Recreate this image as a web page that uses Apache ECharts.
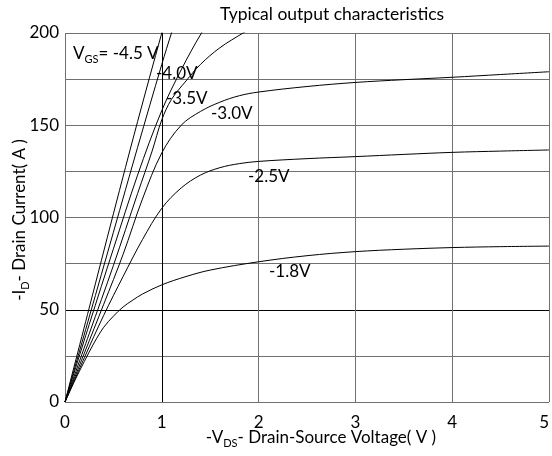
<!DOCTYPE html>
<html>
<head>
<meta charset="utf-8">
<script src="https://cdn.jsdelivr.net/npm/echarts@6/dist/echarts.min.js"></script>
<style>
  html, body { margin: 0; padding: 0; background: #fff; }
  #chart { width: 552px; height: 456px; }
</style>
</head>
<body>
<div id="chart"></div>
<script>
// Axis ranges and tick labels
const xTicks = [0, 1, 2, 3, 4, 5];
const yTicks = [0, 50, 100, 150, 200];

// Output curves: [-VDS (V), -ID (A)] for each gate drive
const curveSteep = [[0,0],[0.25,51],[0.5,102],[0.75,152],[1.0,200],[1.1,218]];
const curve45 = [[0,0],[0.25,46],[0.5,92],[0.75,138],[1.0,183],[1.1,200],[1.2,216]];
const curve40 = [[0,0],[0.25,42],[0.5,83],[0.75,123],[1.0,158],[1.2,180],[1.41,200],[1.6,215]];
const curve35 = [[0,0],[0.25,37],[0.5,74],[0.75,113],[0.9,136],[1.0,153],[1.1,164],[1.25,174],[1.4,183],[1.6,192],[1.84,200],[2.0,205]];
const curve30 = [[0,0],[0.2,26.5],[0.4,53],[0.6,80],[0.8,110],[1.0,135],[1.2,150],[1.4,157.5],[1.6,162.5],[1.8,166],[2.0,168],[2.5,171],[3.0,173.2],[3.5,174.7],[4.0,176],[4.5,177.5],[5.0,179]];
const curve25 = [[0,0],[0.2,24],[0.4,47],[0.6,68],[0.8,88],[1.0,105],[1.2,116],[1.4,123],[1.6,127],[1.8,129.2],[2.0,130.4],[2.5,131.9],[3.0,133],[3.5,134.2],[4.0,135.3],[4.5,136],[5.0,136.6]];
const curve18 = [[0,0],[0.1,11.5],[0.2,22],[0.3,32],[0.4,40.5],[0.5,46.5],[0.6,51.5],[0.7,55.2],[0.8,58.5],[1.0,63.5],[1.25,68],[1.5,71.5],[2.0,76],[2.5,79.3],[3.0,81.5],[3.5,82.8],[4.0,83.7],[4.5,84.2],[5.0,84.5]];

const curves = [curveSteep, curve45, curve40, curve35, curve30, curve25, curve18];

// Curve annotations
const curveLabels = [
  { text: '{t|V}{s|GS}{t|= -4.5 V}', x: 73, y: 54 },
  { text: '{t|-4.0V}', x: 156, y: 74 },
  { text: '{t|-3.5V}', x: 166, y: 99 },
  { text: '{t|-3.0V}', x: 211, y: 114 },
  { text: '{t|-2.5V}', x: 248, y: 177 },
  { text: '{t|-1.8V}', x: 269, y: 272 }
];

const FONT = 'Lato, "Open Sans", sans-serif';
const GRAY = '#707070';
const rich = {
  t: { fontSize: 17, fontFamily: FONT, color: '#000' },
  s: { fontSize: 11, fontFamily: FONT, color: '#000', verticalAlign: 'bottom', lineHeight: 11, padding: [0, 0, -2, 0] }
};

const chart = echarts.init(document.getElementById('chart'), null, { renderer: 'canvas' });

const yColors = [GRAY, GRAY, '#000', GRAY, GRAY, GRAY, GRAY, GRAY, GRAY];
const xColors = [GRAY, '#000', GRAY, GRAY, GRAY, GRAY];

const graphics = [
  {
    type: 'text', x: 332, y: 14,
    style: { text: 'Typical output characteristics', font: '17.5px ' + FONT, fill: '#000', textAlign: 'center', textVerticalAlign: 'middle' }
  },
  {
    type: 'text', x: 321, y: 438,
    style: { text: '{t|-V}{s|DS}{t|- Drain-Source Voltage( V )}', rich: rich, textAlign: 'center', textVerticalAlign: 'middle' }
  },
  {
    type: 'text', x: 20, y: 220, rotation: Math.PI / 2,
    style: { text: '{t|-I}{s|D}{t|- Drain Current( A )}', rich: rich, textAlign: 'center', textVerticalAlign: 'middle' }
  }
];
curveLabels.forEach(function (l) {
  graphics.push({
    type: 'text', x: l.x, y: l.y, z: 10,
    style: { text: l.text, rich: rich, textAlign: 'left', textVerticalAlign: 'middle' }
  });
});

chart.setOption({
  animation: false,
  backgroundColor: '#fff',
  grid: { left: 65, right: 0, top: 33, bottom: 54, containLabel: false },
  xAxis: {
    type: 'value', min: xTicks[0], max: xTicks[xTicks.length - 1], interval: 1,
    axisLine: { show: false },
    axisTick: { show: false },
    axisLabel: { fontSize: 17, fontFamily: FONT, color: '#000', margin: 12, alignMaxLabel: 'right' },
    splitLine: { show: true, showMinLine: true, showMaxLine: true, lineStyle: { color: xColors, width: 1 } }
  },
  yAxis: {
    type: 'value', min: yTicks[0], max: yTicks[yTicks.length - 1], interval: 25,
    axisLine: { show: false },
    axisTick: { show: false },
    axisLabel: {
      fontSize: 17, fontFamily: FONT, color: '#000', margin: 6,
      formatter: function (v) { return yTicks.indexOf(v) >= 0 ? String(v) : ''; }
    },
    splitLine: { show: true, showMinLine: true, showMaxLine: true, lineStyle: { color: yColors, width: 1 } }
  },
  series: curves.map(function (c) {
    return {
      type: 'line', data: c, smooth: 0.35, showSymbol: false, clip: true,
      lineStyle: { color: '#000', width: 1 }, silent: true
    };
  }),
  graphic: graphics
});
</script>
</body>
</html>
